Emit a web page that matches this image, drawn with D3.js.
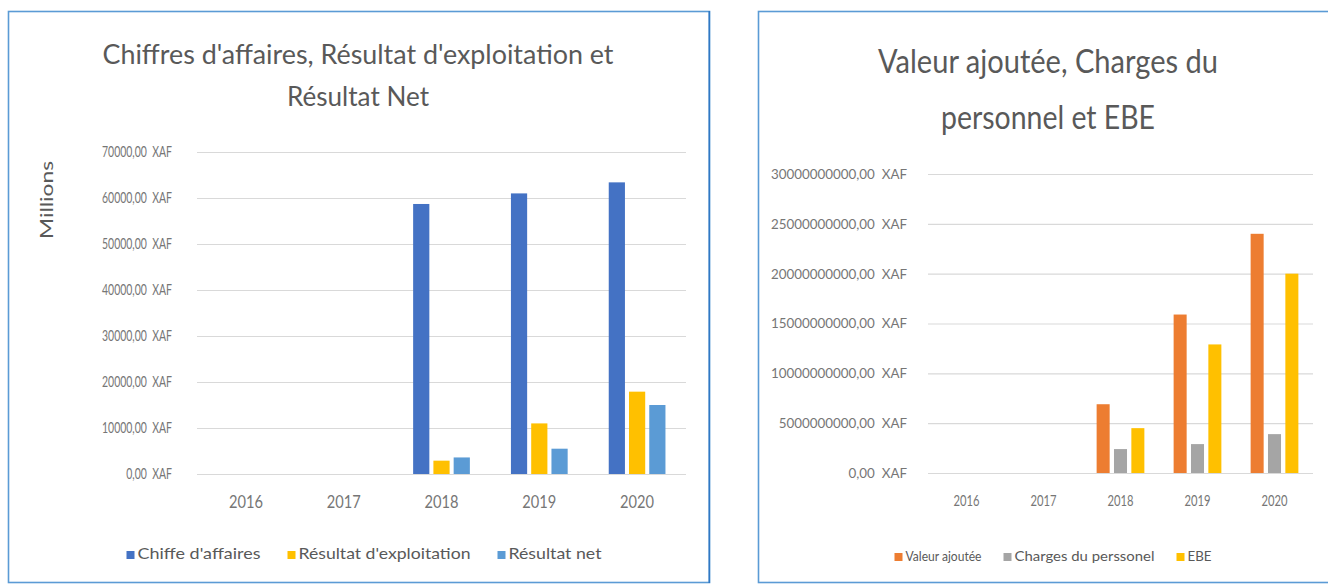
<!DOCTYPE html>
<html><head><meta charset="utf-8">
<script src="https://cdn.jsdelivr.net/npm/d3@7"></script>
<style>
body{margin:0;background:#fff}
svg{display:block}
text{font-family:Lato,"Open Sans",sans-serif}
</style>
</head><body>
<svg id="c" width="1328" height="585"></svg>
<script>
// ---------- data ----------
const years = ["2016", "2017", "2018", "2019", "2020"];

const leftSeries = ["Chiffe d'affaires", "Résultat d'exploitation", "Résultat net"];
const chiffreAffaires = [0, 0, 58700, 61000, 63400];      // millions XAF
const resultatExploitation = [0, 0, 2900, 11000, 17900];
const resultatNet = [0, 0, 3600, 5500, 15000];
const leftTicks = [0, 10000, 20000, 30000, 40000, 50000, 60000, 70000];
const leftTitle = ["Chiffres d'affaires, Résultat d'exploitation et", "Résultat Net"];
const leftAxisTitle = "Millions";

const rightSeries = ["Valeur ajoutée", "Charges du perssonel", "EBE"];
const valeurAjoutee = [0, 0, 6.9e9, 15.9e9, 24.0e9];
const chargesPersonnel = [0, 0, 2.4e9, 2.9e9, 3.9e9];
const ebe = [0, 0, 4.5e9, 12.9e9, 20.0e9];
const rightTicks = [0, 5e9, 10e9, 15e9, 20e9, 25e9, 30e9];
const rightTitle = ["Valeur ajoutée, Charges du", "personnel et EBE"];

const leftColors = ["#4472c4", "#ffc000", "#5b9bd5"];
const rightColors = ["#ed7d31", "#a5a5a5", "#ffc000"];

const fmt = v => d3.format(".2f")(v).replace(".", ",") + "\u00a0\u00a0XAF";

// ---------- helpers ----------
const svg = d3.select("#c");
function squeezeTo(sel, maxW) {
  let m = 0;
  sel.each(function () { m = Math.max(m, this.getComputedTextLength()); });
  const k = maxW / m;
  sel.each(function () {
    const w = this.getComputedTextLength();
    if (w > 0) d3.select(this).attr("textLength", w * k).attr("lengthAdjust", "spacingAndGlyphs");
  });
}
function fit(sel, w) {
  sel.attr("textLength", w).attr("lengthAdjust", "spacingAndGlyphs");
}

function drawChart(cfg) {
  const g = svg.append("g");
  // frame
  g.append("rect").attr("x", cfg.frame[0]).attr("y", cfg.frame[1])
    .attr("width", cfg.frame[2]).attr("height", cfg.frame[3])
    .attr("fill", "#fff").attr("stroke", "#5b9bd5").attr("stroke-width", 1.6);

  // title
  cfg.title.forEach((t, i) => {
    const tt = g.append("text").attr("x", cfg.titleX).attr("y", cfg.titleY[i])
      .attr("text-anchor", "middle").attr("fill", "#595959")
      .attr("font-size", cfg.titleSize).text(t);
    fit(tt, cfg.titleW[i]);
  });

  const y = d3.scaleLinear().domain([0, d3.max(cfg.ticks)]).range([cfg.y0, cfg.y1]);
  const x0 = d3.scaleBand().domain(years).range([cfg.xL, cfg.xR])
    .paddingInner(cfg.pin).paddingOuter(cfg.pin / 2);
  const x1 = d3.scaleBand().domain(cfg.series).range([0, x0.bandwidth()]).paddingInner(cfg.pbar);

  // y axis w/ gridlines
  const ya = g.append("g").attr("transform", `translate(${cfg.xL},0)`)
    .call(d3.axisLeft(y).tickValues(cfg.ticks).tickFormat(fmt)
      .tickSize(-(cfg.xR - cfg.xL)).tickPadding(cfg.tickPad));
  ya.select(".domain").remove();
  ya.selectAll(".tick line").attr("stroke", "#d9d9d9").attr("stroke-width", 1.2);
  ya.selectAll(".tick text").attr("fill", "#767676").attr("font-size", cfg.tickSize)
    .attr("font-family", "Lato,sans-serif");
  squeezeTo(ya.selectAll(".tick text"), cfg.tickW);

  // x axis
  const xa = g.append("g").attr("transform", `translate(0,${cfg.y0})`)
    .call(d3.axisBottom(x0).tickSize(0).tickPadding(cfg.xPad));
  xa.select(".domain").remove();
  xa.selectAll(".tick text").attr("fill", "#767676").attr("font-size", cfg.xSize)
    .attr("font-family", "Lato,sans-serif");
  squeezeTo(xa.selectAll(".tick text"), cfg.xW);

  // bars
  const rows = years.map((yr, i) => ({ yr, vals: cfg.values.map(v => v[i]) }));
  g.append("g").selectAll("g").data(rows).join("g")
    .attr("transform", d => `translate(${x0(d.yr)},0)`)
    .selectAll("rect").data(d => d.vals.map((v, j) => ({ v, s: cfg.series[j], j })))
    .join("rect")
    .attr("x", d => x1(d.s)).attr("width", x1.bandwidth())
    .attr("y", d => y(d.v)).attr("height", d => y(0) - y(d.v))
    .attr("fill", d => cfg.colors[d.j]);

  // legend
  const lg = g.append("g");
  let cx = 0;
  cfg.series.forEach((s, j) => {
    const it = lg.append("g");
    it.append("rect").attr("x", 0).attr("y", -cfg.sq).attr("width", cfg.sq).attr("height", cfg.sq)
      .attr("fill", cfg.colors[j]);
    const t = it.append("text").attr("x", cfg.sq + 3).attr("y", 0).attr("fill", "#595959")
      .attr("font-family", "Lato,sans-serif")
      .attr("font-size", cfg.legSize).text(s);
    fit(t, cfg.legW[j]);
    it.attr("transform", `translate(${cx},0)`);
    cx += cfg.sq + 3 + cfg.legW[j] + cfg.legGap;
  });
  const total = cx - cfg.legGap;
  lg.attr("transform", `translate(${cfg.legX - total / 2},${cfg.legY})`);
  return { g, y, x0 };
}

// ---------- left chart ----------
const L = drawChart({
  frame: [8.5, 11.5, 701, 571],
  title: leftTitle, titleX: 358, titleY: [64, 106], titleSize: 26, titleW: [511, 142],
  ticks: leftTicks, y0: 474, y1: 152, xL: 197, xR: 686, pin: 0.42, pbar: 0.2,
  tickPad: 25, tickSize: 15.5, tickW: 70, xPad: 22, xSize: 17, xW: 34,
  series: leftSeries, values: [chiffreAffaires, resultatExploitation, resultatNet], colors: leftColors,
  sq: 8, legSize: 16, legW: [123, 172, 93], legGap: 27, legX: 364, legY: 559
});
L.g.append("line").attr("x1", 709.3).attr("x2", 709.3).attr("y1", 11).attr("y2", 583)
  .attr("stroke", "#2f78c4").attr("stroke-width", 1.6);
const ml = L.g.append("text").attr("transform", "translate(53,200) rotate(-90)")
  .attr("text-anchor", "middle").attr("fill", "#595959").attr("font-size", 17)
  .attr("font-family", "'Open Sans',sans-serif").text(leftAxisTitle);
fit(ml, 78);

// ---------- right chart ----------
drawChart({
  frame: [758.5, 11.5, 620, 571],
  title: rightTitle, titleX: 1048, titleY: [73, 129], titleSize: 32, titleW: [340, 214],
  ticks: rightTicks, y0: 473, y1: 174, xL: 928, xR: 1313, pin: 0.38, pbar: 0.25,
  tickPad: 21, tickSize: 14, tickW: 136, xPad: 22, xSize: 15, xW: 26,
  series: rightSeries, values: [valeurAjoutee, chargesPersonnel, ebe], colors: rightColors,
  sq: 8, legSize: 14, legW: [76, 140, 24], legGap: 22, legX: 1053, legY: 561
});
</script>
</body></html>
